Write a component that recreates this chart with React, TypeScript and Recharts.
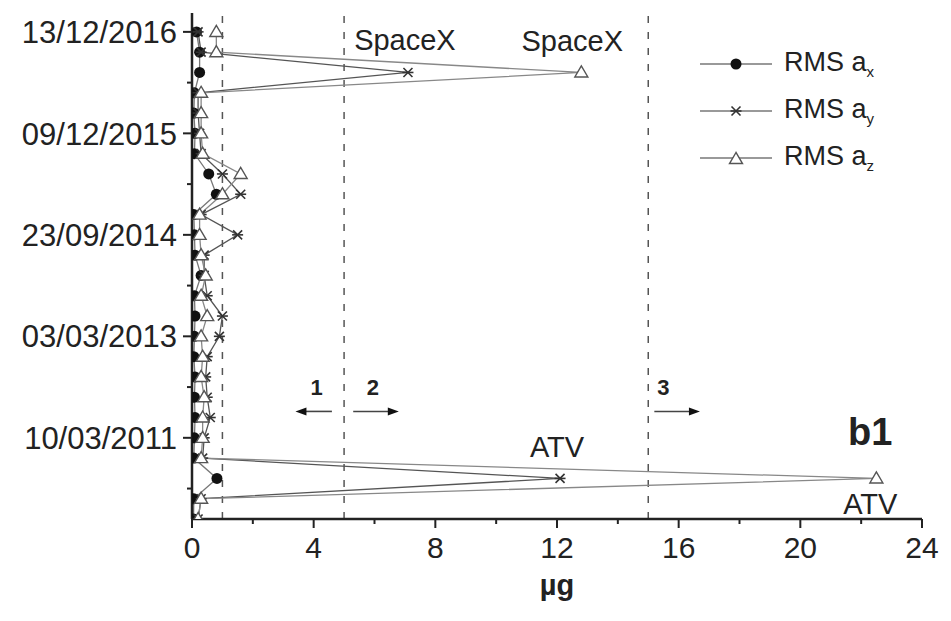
import { LineChart, Line, XAxis, YAxis, ReferenceLine, ReferenceDot, Legend } from 'recharts';

// Sample position down the time axis (0 = latest record at the top)
const sampleIdx = [0, 1, 2, 3, 4, 5, 6, 7, 8, 9, 10, 11, 12, 13, 14, 15, 16, 17, 18, 19, 20, 21, 22, 23, 24];

// RMS acceleration per record, µg
const rmsAx = [0.15, 0.25, 0.25, 0.08, 0.06, 0.1, 0.08, 0.55, 0.8, 0.06, 0.08, 0.1, 0.3, 0.08, 0.1, 0.08, 0.06, 0.1, 0.08, 0.1, 0.08, 0.06, 0.82, 0.06, 0.05];
const rmsAy = [0.2, 0.3, 7.1, 0.2, 0.2, 0.25, 0.3, 1.0, 1.6, 0.3, 1.5, 0.4, 0.4, 0.5, 1.0, 0.9, 0.5, 0.45, 0.5, 0.6, 0.4, 0.35, 12.1, 0.3, 0.2];
const rmsAz = [0.8, 0.8, 12.8, 0.3, 0.3, 0.3, 0.35, 1.6, 1.0, 0.25, 0.25, 0.3, 0.45, 0.3, 0.5, 0.3, 0.35, 0.3, 0.4, 0.35, 0.35, 0.3, 22.5, 0.3, 0.2];

const dateTickIdx = [0, 5, 10, 15, 20];
const dateTickLabels = ['13/12/2016', '09/12/2015', '23/09/2014', '03/03/2013', '10/03/2011'];
const yTicks = [0, 2.5, 5, 7.5, 10, 12.5, 15, 17.5, 20, 22.5];
const xTicks = [0, 2, 4, 6, 8, 10, 12, 14, 16, 18, 20, 22, 24];

// regime boundaries (µg)
const limits = [1, 5, 15];

const data = sampleIdx.map((i, k) => ({ i, ax: rmsAx[k], ay: rmsAy[k], az: rmsAz[k] }));

const FONT = '"Liberation Sans", Arial, sans-serif';
const INK = '#222';

function XTick({ x, y, payload }: any) {
  const v = payload.value;
  const major = v % 4 === 0;
  return (
    <g>
      <line x1={x} y1={y} x2={x} y2={y + (major ? 9 : 5)} stroke={INK} strokeWidth={2} />
      {major && (
        <text x={x} y={y + 39} textAnchor="middle" fontSize={30} fill={INK} fontFamily={FONT}>
          {v}
        </text>
      )}
    </g>
  );
}

function YTick({ x, y, payload }: any) {
  const k = dateTickIdx.indexOf(payload.value);
  return (
    <g>
      <line x1={x} y1={y} x2={x - (k >= 0 ? 9 : 5)} y2={y} stroke={INK} strokeWidth={2} />
      {k >= 0 && (
        <text x={x - 15} y={y} dy="0.36em" textAnchor="end" fontSize={31} fill={INK} fontFamily={FONT}>
          {dateTickLabels[k]}
        </text>
      )}
    </g>
  );
}

const DotMark = ({ cx, cy }: any) => <circle cx={cx} cy={cy} r={5.5} fill="#111" />;

const StarMark = ({ cx, cy }: any) => {
  const r = 4.5;
  return (
    <g stroke="#333" strokeWidth={1.6}>
      <line x1={cx - r} y1={cy - r} x2={cx + r} y2={cy + r} />
      <line x1={cx - r} y1={cy + r} x2={cx + r} y2={cy - r} />
      <line x1={cx - r - 1} y1={cy} x2={cx + r + 1} y2={cy} />
    </g>
  );
};

const TriMark = ({ cx, cy }: any) => {
  const r = 6.5;
  return (
    <polygon
      points={`${cx},${cy - r} ${cx - r},${cy + r * 0.7} ${cx + r},${cy + r * 0.7}`}
      fill="#fff"
      stroke="#555"
      strokeWidth={1.4}
    />
  );
};

const Arrow = ({ x1, y1, x2, y2 }: any) => {
  const dir = Math.sign(x2 - x1);
  return (
    <g>
      <line x1={x1} y1={y1} x2={x2 - dir * 8} y2={y2} stroke="#444" strokeWidth={1.6} />
      <polygon points={`${x2},${y2} ${x2 - dir * 11},${y2 - 4} ${x2 - dir * 11},${y2 + 4}`} fill="#111" />
    </g>
  );
};

const legendRows = [
  { sub: 'x', mark: 'dot' },
  { sub: 'y', mark: 'star' },
  { sub: 'z', mark: 'tri' },
];

function LegendBox() {
  return (
    <div style={{ fontFamily: FONT, color: INK }}>
      {legendRows.map((r) => (
        <div key={r.sub} style={{ display: 'flex', alignItems: 'center', height: 47 }}>
          <svg width={72} height={20}>
            <line x1={0} y1={10} x2={72} y2={10} stroke="#777" strokeWidth={1.4} />
            {r.mark === 'dot' && <DotMark cx={36} cy={10} />}
            {r.mark === 'star' && <StarMark cx={36} cy={10} />}
            {r.mark === 'tri' && <TriMark cx={36} cy={11} />}
          </svg>
          <span style={{ fontSize: 27, marginLeft: 12, whiteSpace: 'nowrap' }}>
            RMS a<sub style={{ fontSize: 15 }}>{r.sub}</sub>
          </span>
        </div>
      ))}
    </div>
  );
}

const textLabel = (value: string, size: number, bold = false) => ({
  value,
  position: 'center' as const,
  fontSize: size,
  fontWeight: bold ? 700 : 400,
  fill: INK,
  fontFamily: FONT,
});

export default function App() {
  return (
    <div style={{ position: 'absolute', left: 0, top: 0, width: 951, height: 621, background: '#fff' }}>
      <LineChart
        width={951}
        height={621}
        data={data}
        layout="vertical"
        margin={{ top: 13, right: 29, bottom: 0, left: 12 }}
      >
        <XAxis
          type="number"
          domain={[0, 24]}
          ticks={xTicks}
          interval={0}
          allowDataOverflow
          tick={<XTick />}
          tickLine={false}
          tickSize={0}
          tickMargin={0}
          height={102}
          axisLine={{ stroke: INK, strokeWidth: 2.5 }}
          label={{ value: 'µg', position: 'insideBottom', offset: 26, fontSize: 29, fontWeight: 700, fill: INK, fontFamily: FONT }}
        />
        <XAxis xAxisId="top" orientation="top" type="number" domain={[0, 24]} height={0} tick={false} tickLine={false} axisLine={{ stroke: INK, strokeWidth: 2.5 }} />
        <YAxis
          type="number"
          dataKey="i"
          domain={[-0.93, 24.0]}
          ticks={yTicks}
          interval={0}
          allowDataOverflow
          tick={<YTick />}
          tickLine={false}
          tickSize={0}
          tickMargin={0}
          width={180}
          axisLine={{ stroke: INK, strokeWidth: 2.5 }}
        />
        <YAxis yAxisId="right" orientation="right" type="number" domain={[0, 1]} width={0} tick={false} tickLine={false} axisLine={{ stroke: INK, strokeWidth: 2.5 }} />

        {limits.map((v) => (
          <ReferenceLine key={v} x={v} stroke="#555" strokeWidth={1.5} strokeDasharray="7 9" />
        ))}

        <Line dataKey="ax" stroke="#777" strokeWidth={1.3} dot={<DotMark />} isAnimationActive={false} />
        <Line dataKey="ay" stroke="#555" strokeWidth={1.3} dot={<StarMark />} isAnimationActive={false} />
        <Line dataKey="az" stroke="#888" strokeWidth={1.3} dot={<TriMark />} isAnimationActive={false} />

        <ReferenceDot x={7.0} y={0.4} r={0} stroke="none" fill="none" label={textLabel('SpaceX', 29)} />
        <ReferenceDot x={12.5} y={0.45} r={0} stroke="none" fill="none" label={textLabel('SpaceX', 29)} />
        <ReferenceDot x={12.0} y={20.45} r={0} stroke="none" fill="none" label={textLabel('ATV', 29)} />
        <ReferenceDot x={22.3} y={23.25} r={0} stroke="none" fill="none" label={textLabel('ATV', 29)} />
        <ReferenceDot x={4.1} y={17.5} r={0} stroke="none" fill="none" label={textLabel('1', 22, true)} />
        <ReferenceDot x={5.95} y={17.5} r={0} stroke="none" fill="none" label={textLabel('2', 22, true)} />
        <ReferenceDot x={15.5} y={17.5} r={0} stroke="none" fill="none" label={textLabel('3', 22, true)} />
        <ReferenceDot x={22.3} y={19.7} r={0} stroke="none" fill="none" label={textLabel('b1', 38, true)} />

        <ReferenceLine segment={[{ x: 4.6, y: 18.7 }, { x: 3.4, y: 18.7 }]} shape={<Arrow />} />
        <ReferenceLine segment={[{ x: 5.3, y: 18.7 }, { x: 6.8, y: 18.7 }]} shape={<Arrow />} />
        <ReferenceLine segment={[{ x: 15.2, y: 18.7 }, { x: 16.7, y: 18.7 }]} shape={<Arrow />} />

        <Legend
          layout="horizontal"
          verticalAlign="middle"
          align="center"
          content={<LegendBox />}
          wrapperStyle={{ position: 'absolute', top: 40, left: 700, width: 230 }}
        />
      </LineChart>
    </div>
  );
}
